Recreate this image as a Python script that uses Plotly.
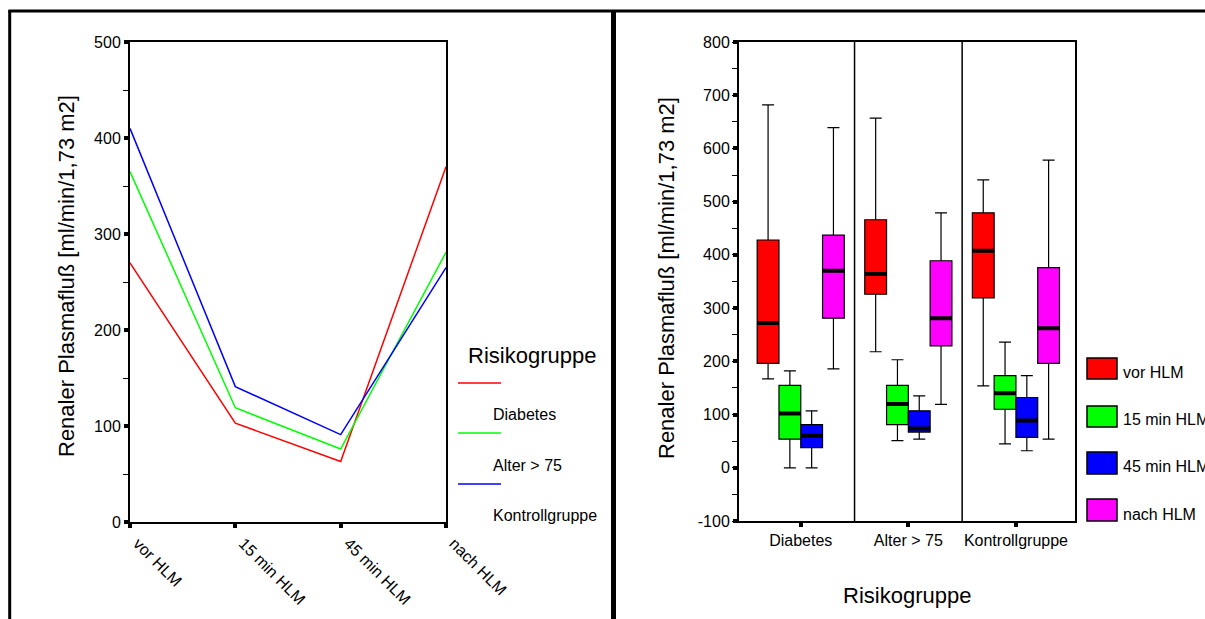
import plotly.graph_objects as go

# ---------------- data ----------------
timepoints = ["vor HLM", "15 min HLM", "45 min HLM", "nach HLM"]
groups = ["Diabetes", "Alter > 75", "Kontrollgruppe"]

# left: mean lines per risk group
line_diabetes = [270, 103, 63, 370]
line_alter = [365, 119, 76, 281]
line_kontroll = [410, 141, 91, 265]

# right: box statistics per time point, ordered by group (Diabetes, Alter > 75, Kontrollgruppe)
vor_low = [167, 218, 154]
vor_q1 = [196, 326, 319]
vor_med = [272, 364, 408]
vor_q3 = [428, 466, 479]
vor_high = [682, 657, 541]

m15_low = [0, 51, 45]
m15_q1 = [54, 81, 110]
m15_med = [102, 120, 140]
m15_q3 = [155, 155, 173]
m15_high = [182, 203, 236]

m45_low = [0, 54, 32]
m45_q1 = [38, 67, 57]
m45_med = [60, 74, 89]
m45_q3 = [81, 107, 132]
m45_high = [107, 135, 173]

nach_low = [186, 119, 54]
nach_q1 = [281, 229, 196]
nach_med = [370, 281, 262]
nach_q3 = [437, 389, 376]
nach_high = [639, 479, 578]

# tick labels of the right y axis (plain hyphen for negatives, as in the original)
right_ytickvals = [-100, 0, 100, 200, 300, 400, 500, 600, 700, 800]
right_yticktext = ["-100", "0", "100", "200", "300", "400", "500", "600", "700", "800"]

line_colors = ["#ff0000", "#00ff00", "#0000ff"]
box_colors = ["#ff0000", "#00ff00", "#0000ff", "#ff00ff"]

W, H = 1205, 619
FONT = "Liberation Sans, Arial, sans-serif"


def px(x):
    return x / W


def py(y):
    return 1 - y / H


fig = go.Figure()

# ---------------- left chart ----------------
for vals, name, col in zip([line_diabetes, line_alter, line_kontroll], groups, line_colors):
    fig.add_trace(go.Scatter(x=timepoints, y=vals, mode="lines", name=name,
                             line=dict(color=col, width=1.5), showlegend=False,
                             xaxis="x", yaxis="y"))

# ---------------- right chart ----------------
box_stats = [
    (vor_low, vor_q1, vor_med, vor_q3, vor_high),
    (m15_low, m15_q1, m15_med, m15_q3, m15_high),
    (m45_low, m45_q1, m45_med, m45_q3, m45_high),
    (nach_low, nach_q1, nach_med, nach_q3, nach_high),
]
for i, (tp, (lo, q1, med, q3, hi), col) in enumerate(zip(timepoints, box_stats, box_colors)):
    fig.add_trace(go.Box(x=groups, lowerfence=lo, q1=q1, median=med, q3=q3, upperfence=hi,
                         name=tp, fillcolor=col, line=dict(color="black", width=1.2),
                         whiskerwidth=0.55, offsetgroup=str(i), boxpoints=False,
                         showlegend=False, hoverinfo="skip", xaxis="x2", yaxis="y2"))
for i, (tp, (lo, q1, med, q3, hi)) in enumerate(zip(timepoints, box_stats)):
    fig.add_trace(go.Box(x=groups, lowerfence=med, q1=med, median=med, q3=med, upperfence=med,
                         name=tp + " median", fillcolor="rgba(0,0,0,0)",
                         line=dict(color="black", width=4), whiskerwidth=0,
                         offsetgroup=str(i), boxpoints=False, showlegend=False,
                         hoverinfo="skip", xaxis="x2", yaxis="y2"))

axis_common = dict(showline=True, linecolor="black", linewidth=2, mirror=True,
                   showgrid=False, zeroline=False, ticks="outside", tickcolor="black",
                   automargin=False,
                   tickfont=dict(family=FONT, size=16, color="black"))

fig.update_layout(
    template="none",
    width=W, height=H, margin=dict(l=0, r=0, t=0, b=0, pad=0, autoexpand=False),
    paper_bgcolor="white", plot_bgcolor="white",
    font=dict(family=FONT, size=16, color="black"),
    showlegend=False,
    boxmode="group", boxgap=0.19, boxgroupgap=0,
    xaxis=dict(domain=[px(130), px(446)], type="category", range=[0, 3],
               tickangle=45, ticklen=4, tickwidth=4, ticklabelshift=8, anchor="y",
               **axis_common),
    yaxis=dict(domain=[py(522), py(42)], range=[0, 500], dtick=100,
               ticklen=4, tickwidth=4, anchor="x",
               minor=dict(ticks="outside", dtick=50, ticklen=5, tickwidth=1, tickcolor="black"),
               **axis_common),
    xaxis2=dict(domain=[px(739), px(1075)], type="category", range=[-0.574, 2.549],
                ticklen=4, tickwidth=4, anchor="y2", **axis_common),
    yaxis2=dict(domain=[py(521), py(42)], range=[-100, 800],
                tickvals=right_ytickvals, ticktext=right_yticktext,
                ticklen=4, tickwidth=4, anchor="x2",
                minor=dict(ticks="outside", dtick=50, ticklen=5, tickwidth=1, tickcolor="black"),
                **axis_common),
)

shapes = []
# outer frame
shapes.append(dict(type="line", xref="paper", yref="paper", x0=px(8.5), x1=1, y0=py(11), y1=py(11),
                   line=dict(color="black", width=3)))
shapes.append(dict(type="line", xref="paper", yref="paper", x0=px(9.7), x1=px(9.7), y0=py(10), y1=0,
                   line=dict(color="black", width=3)))
shapes.append(dict(type="line", xref="paper", yref="paper", x0=px(613.5), x1=px(613.5), y0=py(10), y1=0,
                   line=dict(color="black", width=5)))
# group dividers in right chart
for xv in [0.5, 1.5]:
    shapes.append(dict(type="line", xref="x2", yref="y2 domain", x0=xv, x1=xv, y0=0, y1=1,
                       line=dict(color="black", width=1.5)))

annotations = []
# left legend
annotations.append(dict(text="Risikogruppe", xref="paper", yref="paper", x=px(466), y=py(355),
                        xanchor="left", yanchor="middle", showarrow=False,
                        font=dict(family=FONT, size=22, color="black")))
leg_line_y = [383, 433, 484]
leg_text_y = [414, 465, 515]
for name, col, ly, ty in zip(groups, line_colors, leg_line_y, leg_text_y):
    shapes.append(dict(type="line", xref="paper", yref="paper", x0=px(458), x1=px(501),
                       y0=py(ly), y1=py(ly), line=dict(color=col, width=1.5)))
    annotations.append(dict(text=name, xref="paper", yref="paper", x=px(491), y=py(ty),
                            xanchor="left", yanchor="middle", showarrow=False,
                            font=dict(family=FONT, size=16, color="black")))

# right legend
rect_y = [(358, 379), (406, 427), (452, 474), (499, 521)]
txt_y = [372, 419, 466, 514]
for tp, col, (y0, y1), ty in zip(timepoints, box_colors, rect_y, txt_y):
    shapes.append(dict(type="rect", xref="paper", yref="paper", x0=px(1087), x1=px(1117),
                       y0=py(y1), y1=py(y0), fillcolor=col, line=dict(color="black", width=1.5)))
    annotations.append(dict(text=tp, xref="paper", yref="paper", x=px(1121), y=py(ty),
                            xanchor="left", yanchor="middle", showarrow=False,
                            font=dict(family=FONT, size=16, color="black")))

# axis titles
ytitle = "Renaler Plasmafluß [ml/min/1,73 m2]"
annotations.append(dict(text=ytitle, xref="paper", yref="paper", x=px(66), y=py(276),
                        textangle=-90, xanchor="center", yanchor="middle", showarrow=False,
                        font=dict(family=FONT, size=22, color="black")))
annotations.append(dict(text=ytitle, xref="paper", yref="paper", x=px(666), y=py(278),
                        textangle=-90, xanchor="center", yanchor="middle", showarrow=False,
                        font=dict(family=FONT, size=22, color="black")))
annotations.append(dict(text="Risikogruppe", xref="paper", yref="paper", x=px(907), y=py(595),
                        xanchor="center", yanchor="middle", showarrow=False,
                        font=dict(family=FONT, size=22, color="black")))

fig.update_layout(shapes=shapes, annotations=annotations)

# page without body margin and without scroll overflow, so the figure fills the window exactly
post = ("document.documentElement.style.margin='0';document.body.style.margin='0';"
        "document.documentElement.style.overflow='hidden';document.body.style.overflow='hidden';")
fig.write_html("out.html", post_script=post)
